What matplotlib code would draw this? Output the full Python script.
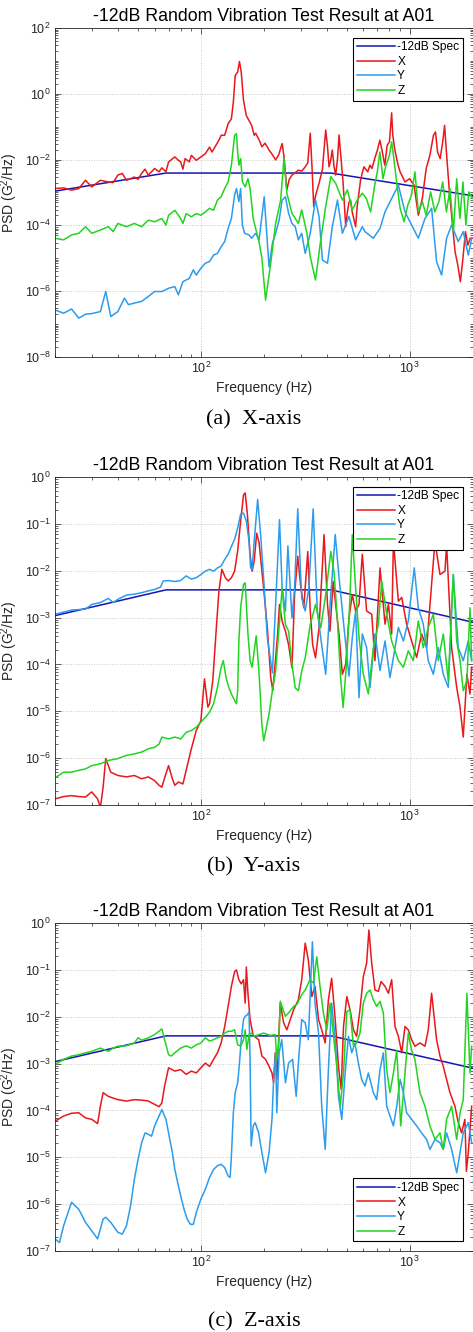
import numpy as np
import matplotlib
matplotlib.use('Agg')
import matplotlib.pyplot as plt
from matplotlib import ticker

plt.rcParams['font.family'] = ['Liberation Sans', 'DejaVu Sans']
plt.rcParams['mathtext.fontset'] = 'custom'
plt.rcParams['mathtext.rm'] = 'Liberation Sans'
plt.rcParams['mathtext.it'] = 'Liberation Sans:italic'
plt.rcParams['mathtext.bf'] = 'Liberation Sans:bold'

title = '-12dB Random Vibration Test Result at A01'
legend_labels = ['-12dB Spec', 'X', 'Y', 'Z']
captions = ['(a)  X-axis', '(b)  Y-axis', '(c)  Z-axis']

# -12dB spec breakpoints (Hz, G^2/Hz)
spec_f = [20, 68, 420, 2000]
spec_psd = [1.1e-3, 3.9e-3, 3.9e-3, 8.0e-4]

# measured PSDs: (frequency Hz, log10 of PSD in G^2/Hz), read off the plots
# ---- (a) X-axis test
a_x = [(20, -2.88), (22, -2.86), (24, -2.93), (26, -2.88), (28, -2.63), (30, -2.83), (33, -2.63), (36, -2.68),
       (38, -2.70), (40, -2.47), (42, -2.42), (44, -2.63), (48, -2.53), (50, -2.60), (52, -2.42), (54, -2.29),
       (56, -2.47), (60, -2.27), (63, -2.37), (65, -2.25), (68, -2.37), (70, -2.07), (75, -1.92), (78, -2.02),
       (80, -2.07), (82, -2.29), (84, -1.97), (88, -2.07), (90, -1.87), (95, -2.02), (100, -1.92), (105, -1.82),
       (110, -1.62), (113, -1.77), (118, -1.57), (122, -1.41), (125, -1.26), (130, -1.26), (135, -0.91),
       (140, -0.76), (143, -0.25), (146, 0.56), (150, 0.66), (153, 0.98), (156, 0.66), (160, -0.20), (165, -0.66),
       (170, -0.81), (175, -0.96), (180, -1.26), (183, -1.20), (190, -1.40), (196, -1.61), (203, -1.50),
       (212, -1.71), (220, -1.85), (228, -2.01), (236, -1.85), (245, -1.51), (250, -1.90), (258, -2.92),
       (265, -2.60), (273, -2.47), (283, -2.40), (293, -2.32), (304, -2.35), (316, -2.22), (325, -2.10),
       (334, -1.20), (341, -2.30), (347, -3.43), (354, -3.10), (368, -2.72), (382, -2.30), (396, -1.10),
       (404, -1.60), (411, -2.22), (419, -2.00), (426, -1.71), (434, -2.20), (442, -2.47), (451, -2.00),
       (459, -1.25), (468, -1.90), (480, -2.72), (494, -4.04), (503, -3.60), (512, -3.30), (521, -3.23),
       (531, -3.60), (551, -4.04), (561, -3.40), (582, -2.62), (593, -2.40), (604, -2.22), (630, -2.37),
       (645, -2.17), (660, -2.27), (680, -1.97), (700, -1.72), (720, -1.41), (740, -1.77), (760, -2.17),
       (780, -1.57), (800, -1.46), (820, -0.58), (830, -1.26), (850, -1.72), (880, -2.17), (900, -2.37),
       (950, -2.68), (1000, -2.58), (1050, -2.78), (1100, -3.69), (1150, -3.18), (1200, -2.27), (1250, -1.87),
       (1300, -1.26), (1330, -1.16), (1360, -1.77), (1400, -1.97), (1440, -1.46), (1470, -0.96), (1500, -1.77),
       (1550, -2.98), (1600, -3.89), (1650, -4.80), (1700, -5.20), (1750, -5.71), (1800, -5.00), (1850, -4.19),
       (1900, -4.60), (1950, -4.39), (2000, -4.39)]
a_y = [(20, -6.57), (22, -6.67), (24, -6.54), (26, -6.82), (28, -6.70), (30, -6.68), (33, -6.62), (35, -6.01),
       (37, -6.77), (40, -6.62), (43, -6.21), (45, -6.41), (48, -6.36), (52, -6.31), (56, -6.16), (60, -6.01),
       (65, -6.01), (70, -5.91), (75, -5.86), (78, -6.11), (82, -5.71), (88, -5.61), (92, -5.35), (95, -5.51),
       (100, -5.30), (105, -5.15), (110, -5.10), (115, -4.90), (120, -4.85), (125, -4.65), (130, -4.49),
       (135, -4.09), (140, -3.79), (145, -3.08), (148, -2.88), (152, -3.28), (155, -2.88), (158, -3.99),
       (162, -4.24), (170, -4.29), (175, -4.39), (183, -4.24), (190, -4.44), (201, -3.13), (212, -5.26),
       (220, -4.54), (228, -4.24), (237, -3.84), (245, -3.23), (254, -3.13), (263, -3.63), (273, -3.94),
       (283, -4.04), (293, -4.44), (304, -4.24), (316, -4.85), (334, -4.24), (354, -3.23), (368, -3.73),
       (382, -5.05), (404, -5.15), (426, -4.04), (451, -3.23), (476, -4.24), (512, -3.73), (551, -4.44),
       (593, -4.04), (611, -4.19), (670, -4.39), (721, -4.09), (762, -3.59), (820, -3.18), (883, -2.78),
       (950, -3.59), (1022, -3.99), (1100, -4.39), (1184, -3.79), (1274, -3.48), (1346, -5.10), (1422, -5.51),
       (1503, -4.39), (1588, -3.99), (1709, -4.49), (1806, -4.19), (1909, -4.90), (1982, -4.39)]
a_z = [(20, -4.39), (22, -4.44), (24, -4.29), (26, -4.24), (28, -4.04), (30, -4.24), (33, -4.14), (36, -4.04),
       (38, -4.19), (40, -3.94), (44, -4.04), (48, -3.94), (52, -4.04), (56, -3.84), (60, -3.89), (65, -3.79),
       (68, -3.99), (70, -3.69), (75, -3.54), (80, -3.79), (82, -3.94), (85, -3.64), (90, -3.74), (95, -3.64),
       (100, -3.69), (105, -3.59), (110, -3.48), (115, -3.54), (120, -3.23), (125, -3.13), (130, -2.88),
       (135, -2.68), (140, -2.17), (145, -1.26), (148, -1.21), (150, -1.77), (152, -2.17), (155, -1.97),
       (158, -2.68), (163, -2.83), (168, -2.58), (172, -2.88), (178, -3.79), (183, -4.10), (190, -4.50),
       (196, -5.00), (204, -6.27), (216, -5.15), (228, -3.94), (241, -3.23), (250, -1.96), (258, -3.02),
       (273, -3.63), (293, -3.94), (304, -3.53), (322, -4.24), (334, -4.95), (354, -5.66), (375, -4.44),
       (396, -3.43), (419, -2.52), (442, -2.72), (476, -3.23), (503, -2.92), (531, -3.53), (561, -3.23),
       (593, -3.02), (620, -3.18), (650, -3.59), (680, -2.78), (700, -2.37), (720, -1.77), (745, -2.58),
       (770, -2.17), (800, -1.87), (820, -1.46), (840, -1.97), (870, -2.78), (900, -3.48), (940, -3.89),
       (980, -3.38), (1020, -3.08), (1060, -2.37), (1100, -3.59), (1150, -3.28), (1200, -3.69), (1260, -2.98),
       (1320, -3.59), (1380, -3.28), (1440, -2.68), (1500, -3.59), (1560, -2.88), (1620, -4.19), (1680, -2.58),
       (1740, -3.79), (1800, -2.68), (1860, -3.99), (1920, -2.98), (2000, -3.18)]

# ---- (b) Y-axis test
b_x = [(20, -6.87), (22, -6.82), (24, -6.80), (26, -6.82), (28, -6.83), (30, -6.72), (32, -6.87), (33, -7.05),
       (34, -6.62), (35, -6.01), (37, -6.30), (40, -6.37), (44, -6.40), (48, -6.37), (52, -6.44), (56, -6.40),
       (60, -6.48), (63, -6.58), (65, -6.62), (68, -6.33), (70, -6.16), (73, -6.44), (75, -6.58), (78, -6.51),
       (82, -6.55), (85, -6.26), (88, -5.98), (90, -5.80), (95, -5.41), (100, -5.20), (104, -4.31), (108, -4.91),
       (110, -4.84), (114, -4.35), (118, -3.35), (122, -2.43), (126, -1.97), (131, -2.15), (135, -2.22),
       (140, -2.15), (145, -2.01), (150, -1.58), (155, -0.94), (160, -0.38), (163, -0.34), (167, -0.80),
       (172, -1.65), (176, -2.01), (180, -1.79), (185, -1.20), (190, -1.40), (200, -2.40), (208, -3.22),
       (216, -4.28), (221, -4.56), (228, -3.86), (233, -3.36), (238, -2.72), (245, -3.08), (254, -3.29),
       (263, -3.58), (273, -4.07), (281, -2.51), (291, -1.69), (300, -2.30), (311, -2.79), (325, -1.59),
       (334, -2.86), (343, -3.58), (354, -3.86), (368, -3.22), (389, -1.23), (404, -2.72), (415, -3.29),
       (430, -2.23), (442, -2.72), (459, -3.36), (476, -4.21), (494, -4.00), (512, -3.01), (531, -2.51),
       (551, -2.86), (572, -2.72), (593, -1.65), (622, -2.86), (658, -2.93), (682, -3.92), (721, -1.94),
       (762, -3.14), (791, -2.72), (820, -3.35), (836, -1.37), (883, -2.65), (916, -2.57), (967, -3.14),
       (1022, -3.50), (1080, -3.85), (1141, -3.35), (1206, -3.64), (1322, -1.37), (1397, -2.08), (1476, -2.01),
       (1503, -1.44), (1588, -3.64), (1680, -4.49), (1743, -4.91), (1806, -5.55), (1880, -4.21), (1945, -4.63),
       (1982, -4.06)]
b_y = [(20, -2.93), (24, -2.84), (28, -2.82), (30, -2.72), (33, -2.68), (36, -2.59), (38, -2.68), (40, -2.61),
       (44, -2.52), (48, -2.50), (52, -2.47), (56, -2.43), (60, -2.40), (64, -2.35), (66, -2.22), (70, -2.21),
       (75, -2.23), (80, -2.21), (85, -2.11), (90, -2.18), (95, -2.15), (100, -2.08), (105, -2.01), (110, -1.97),
       (115, -2.01), (120, -1.94), (125, -1.90), (130, -1.76), (135, -1.65), (140, -1.48), (145, -1.33),
       (150, -1.09), (155, -0.79), (160, -0.77), (165, -0.94), (170, -1.37), (173, -1.94), (176, -1.97),
       (180, -1.37), (187, -0.48), (193, -1.20), (200, -2.20), (208, -3.43), (220, -4.18), (228, -2.72),
       (238, -0.91), (245, -2.37), (254, -2.86), (261, -1.47), (273, -3.01), (281, -2.37), (291, -0.68),
       (304, -2.58), (316, -2.86), (329, -2.37), (345, -0.68), (361, -2.86), (375, -3.43), (396, -4.21),
       (419, -2.51), (440, -1.23), (459, -2.15), (485, -3.22), (512, -4.25), (531, -3.43), (551, -2.86),
       (572, -4.71), (593, -3.35), (622, -3.64), (646, -4.49), (682, -3.35), (721, -4.13), (762, -3.50),
       (805, -4.28), (836, -3.85), (883, -3.21), (933, -3.50), (985, -3.07), (1052, -1.94), (1100, -2.79),
       (1162, -3.14), (1228, -3.92), (1298, -4.21), (1371, -3.64), (1449, -4.21), (1531, -4.49), (1618, -2.08),
       (1709, -3.64), (1806, -3.92), (1909, -3.50), (1982, -3.92)]
b_z = [(20, -6.42), (22, -6.30), (24, -6.30), (26, -6.26), (28, -6.23), (30, -6.16), (33, -6.12), (36, -6.05),
       (40, -6.01), (44, -5.94), (48, -5.91), (52, -5.87), (56, -5.80), (60, -5.77), (63, -5.70), (65, -5.55),
       (70, -5.59), (75, -5.55), (80, -5.59), (85, -5.45), (90, -5.41), (95, -5.34), (100, -5.23), (105, -5.13),
       (110, -5.02), (115, -4.84), (120, -4.49), (125, -4.06), (128, -3.92), (132, -4.28), (136, -4.49),
       (140, -4.63), (145, -4.77), (148, -4.84), (150, -4.56), (152, -3.50), (155, -2.79), (160, -2.29),
       (163, -2.26), (168, -3.35), (172, -3.92), (176, -4.06), (180, -3.71), (184, -3.39), (190, -4.20),
       (196, -5.30), (200, -5.63), (212, -5.06), (220, -4.56), (228, -4.14), (236, -3.29), (245, -2.37),
       (254, -3.15), (263, -3.29), (273, -4.00), (283, -4.50), (293, -4.56), (304, -4.14), (316, -3.86),
       (334, -3.15), (354, -2.72), (375, -3.22), (396, -2.51), (419, -1.59), (434, -2.02), (451, -3.08),
       (467, -4.28), (480, -4.92), (498, -4.00), (516, -2.72), (531, -1.23), (551, -2.37), (572, -3.43),
       (600, -4.21), (634, -4.63), (670, -3.64), (708, -3.14), (735, -2.22), (776, -2.93), (820, -3.50),
       (883, -3.92), (933, -4.06), (985, -3.71), (1041, -3.92), (1100, -3.07), (1162, -3.64), (1228, -3.21),
       (1298, -2.93), (1371, -3.92), (1449, -3.35), (1531, -4.35), (1618, -2.08), (1680, -3.50), (1743, -3.92),
       (1806, -4.56), (1880, -4.35), (1945, -2.79), (1982, -3.92)]

# ---- (c) Z-axis test
c_x = [(20, -4.23), (22, -4.12), (24, -4.06), (26, -4.05), (28, -4.16), (30, -4.19), (32, -4.28), (33, -3.91),
       (34, -3.62), (36, -3.70), (40, -3.77), (44, -3.80), (48, -3.77), (52, -3.78), (56, -3.80), (60, -3.87),
       (63, -3.92), (65, -3.84), (67, -3.48), (70, -3.09), (75, -3.16), (80, -3.13), (85, -3.23), (90, -3.16),
       (95, -3.20), (100, -3.09), (105, -2.99), (110, -3.06), (115, -2.91), (120, -2.77), (125, -2.56),
       (130, -2.21), (135, -1.78), (140, -1.35), (145, -1.04), (148, -1.00), (152, -1.21), (156, -1.30),
       (160, -1.21), (163, -1.71), (165, -0.94), (168, -1.50), (172, -2.06), (178, -2.40), (189, -2.49),
       (196, -2.84), (204, -2.91), (212, -3.06), (219, -3.20), (223, -3.41), (227, -2.77), (231, -3.34),
       (240, -1.71), (249, -2.13), (258, -2.28), (268, -2.06), (278, -1.85), (293, -1.64), (304, -1.21),
       (316, -0.43), (327, -0.79), (340, -1.57), (352, -1.35), (366, -2.06), (379, -2.28), (394, -2.56),
       (408, -1.64), (423, -1.18), (440, -2.06), (456, -3.06), (470, -3.55), (482, -2.21), (500, -1.57),
       (518, -1.85), (538, -2.28), (557, -2.42), (578, -1.85), (600, -1.14), (622, -0.86), (638, -0.15),
       (658, -0.86), (682, -1.43), (708, -1.46), (729, -1.25), (762, -1.35), (791, -1.50), (820, -1.21),
       (851, -2.21), (883, -2.42), (916, -2.77), (950, -2.21), (985, -2.28), (1022, -2.49), (1060, -2.63),
       (1120, -2.56), (1184, -2.63), (1228, -2.28), (1274, -1.50), (1346, -2.49), (1397, -2.84), (1449, -3.06),
       (1503, -3.34), (1560, -3.62), (1648, -3.91), (1709, -4.26), (1773, -4.48), (1839, -4.19), (1870, -5.30),
       (1909, -4.90), (1982, -3.91)]
c_y = [(20, -6.74), (21, -6.82), (22, -6.46), (24, -5.96), (26, -6.11), (28, -6.39), (30, -6.57), (32, -6.74),
       (34, -6.32), (35, -6.28), (37, -6.39), (40, -6.60), (42, -6.64), (44, -6.46), (46, -6.04), (48, -5.47),
       (50, -5.04), (52, -4.69), (54, -4.48), (56, -4.51), (58, -4.55), (60, -4.33), (63, -4.12), (65, -3.98),
       (68, -4.19), (70, -4.48), (73, -4.90), (75, -5.26), (78, -5.61), (80, -5.82), (83, -6.11), (86, -6.32),
       (89, -6.43), (92, -6.43), (95, -6.18), (100, -5.89), (105, -5.68), (110, -5.43), (115, -5.26),
       (120, -5.18), (125, -5.15), (130, -5.22), (135, -5.40), (138, -5.43), (140, -4.97), (143, -4.05),
       (146, -3.62), (150, -3.41), (153, -2.99), (156, -2.49), (160, -2.06), (163, -1.99), (167, -1.96),
       (170, -1.89), (172, -2.91), (174, -4.76), (178, -4.33), (182, -4.26), (189, -4.48), (196, -4.90),
       (204, -5.33), (212, -4.90), (219, -4.19), (223, -3.34), (228, -2.77), (231, -4.05), (237, -2.77),
       (244, -2.49), (254, -3.41), (263, -2.99), (275, -2.91), (286, -3.70), (293, -2.99), (304, -2.06),
       (316, -2.13), (327, -2.49), (342, -0.40), (352, -1.71), (366, -2.35), (379, -3.91), (394, -4.83),
       (408, -3.13), (423, -1.71), (440, -2.49), (456, -3.70), (473, -4.19), (491, -3.20), (509, -2.42),
       (528, -2.77), (547, -2.56), (568, -2.99), (589, -3.34), (611, -3.48), (634, -3.20), (670, -3.62),
       (695, -3.77), (721, -3.13), (748, -2.77), (776, -3.91), (805, -4.12), (836, -4.33), (867, -3.91),
       (900, -3.34), (933, -3.62), (967, -4.05), (1022, -4.19), (1080, -4.33), (1141, -4.48), (1206, -4.62),
       (1251, -4.83), (1322, -4.62), (1397, -4.69), (1449, -4.83), (1503, -4.48), (1588, -4.83), (1680, -5.33),
       (1743, -4.90), (1806, -4.48), (1909, -4.26), (1982, -4.69)]
c_z = [(20, -3.02), (22, -2.91), (24, -2.84), (26, -2.81), (28, -2.77), (30, -2.74), (33, -2.67), (36, -2.74),
       (38, -2.67), (40, -2.63), (44, -2.62), (48, -2.56), (50, -2.45), (52, -2.50), (56, -2.45), (60, -2.38),
       (63, -2.31), (65, -2.26), (67, -2.49), (70, -2.81), (72, -2.84), (75, -2.77), (80, -2.67), (85, -2.62),
       (90, -2.67), (95, -2.60), (100, -2.56), (105, -2.45), (110, -2.52), (115, -2.49), (120, -2.45),
       (125, -2.42), (130, -2.35), (135, -2.31), (140, -2.31), (145, -2.28), (150, -2.60), (155, -2.63),
       (160, -2.49), (163, -2.28), (166, -2.70), (170, -2.38), (175, -2.35), (180, -2.42), (190, -2.38),
       (200, -2.35), (215, -2.40), (227, -2.38), (231, -2.91), (236, -2.60), (240, -1.67), (254, -1.99),
       (263, -1.92), (278, -1.78), (288, -1.74), (304, -1.53), (316, -1.43), (333, -1.21), (346, -1.28),
       (359, -0.72), (372, -1.35), (386, -1.92), (401, -2.28), (416, -1.71), (432, -2.42), (448, -3.06),
       (465, -3.91), (482, -3.20), (500, -1.89), (518, -1.85), (538, -2.63), (557, -2.56), (578, -2.35),
       (600, -1.71), (622, -1.50), (646, -1.43), (670, -1.64), (695, -1.78), (721, -1.67), (748, -1.92),
       (776, -3.13), (805, -3.62), (836, -3.20), (867, -2.72), (906, -4.33), (950, -3.20), (985, -2.35),
       (1022, -2.72), (1060, -2.91), (1120, -3.62), (1184, -3.91), (1251, -4.33), (1322, -4.62), (1397, -4.48),
       (1449, -4.83), (1503, -4.19), (1588, -3.91), (1680, -4.62), (1743, -4.05), (1806, -3.77), (1880, -1.50),
       (1945, -3.20), (1982, -2.63)]

spec_color = '#1414b4'
curve_colors = ['#e8181c', '#2c9cec', '#22d422']
text_color = '#262626'


def drawPanel(ax, curves, ylim, yticks, legend_loc):
    ax.plot(spec_f, spec_psd, color=spec_color, lw=1.1, label=legend_labels[0])
    for data, color, label in zip(curves, curve_colors, legend_labels[1:]):
        f, lg = zip(*data)
        ax.plot(f, 10.0 ** np.array(lg), color=color, lw=1.1, label=label)

    ax.set_xscale('log')
    ax.set_yscale('log')
    ax.set_xlim(20, 2000)
    ax.set_ylim(*ylim)
    ax.set_yticks(yticks)
    ax.yaxis.set_minor_locator(ticker.LogLocator(base=10, subs=np.arange(1, 10), numticks=100))
    ax.xaxis.set_minor_locator(ticker.LogLocator(base=10, subs=np.arange(1, 10), numticks=100))
    ax.xaxis.set_minor_formatter(ticker.NullFormatter())
    ax.yaxis.set_minor_formatter(ticker.NullFormatter())

    ax.grid(True, which='major', linestyle=':', color='#c8c8c8', lw=0.7)
    ax.tick_params(which='both', direction='in', top=True, right=True, colors=text_color,
                   labelsize=9, width=0.5)
    ax.tick_params(which='major', length=4, pad=3)
    ax.tick_params(which='minor', length=2)
    for s in ax.spines.values():
        s.set_color(text_color)
        s.set_linewidth(0.6)

    ax.set_title(title, fontsize=12.8, color='black', pad=5)
    ax.set_xlabel('Frequency (Hz)', fontsize=10, color=text_color, labelpad=3)
    ax.set_ylabel('PSD (G$^2$/Hz)', fontsize=10, color=text_color)
    # label sits left of the tick labels, fully inside the figure
    ax.yaxis.set_label_coords(-0.083, 0.5)

    leg = ax.legend(loc=legend_loc, fontsize=8.6, fancybox=False, framealpha=1, edgecolor='black',
                    handlelength=3.2, handletextpad=0.2, labelspacing=0.22, borderpad=0.3,
                    borderaxespad=0.8)
    leg.get_frame().set_linewidth(0.8)


fig = plt.figure(figsize=(4.73, 13.32), dpi=100)
W, H = 473.0, 1332.0

# axes boxes in pixels: (left, top, right, bottom)
boxes = [(55, 28, 472.5, 357), (55, 477, 472.5, 805), (55, 923, 472.5, 1251)]
caption_y = [420, 867, 1322]
panel_curves = [(a_x, a_y, a_z), (b_x, b_y, b_z), (c_x, c_y, c_z)]
panel_ylim = [(1e-8, 1e2), (1e-7, 1e0), (1e-7, 1e0)]
panel_yticks = [[1e-8, 1e-6, 1e-4, 1e-2, 1e0, 1e2],
                [1e-7, 1e-6, 1e-5, 1e-4, 1e-3, 1e-2, 1e-1, 1e0],
                [1e-7, 1e-6, 1e-5, 1e-4, 1e-3, 1e-2, 1e-1, 1e0]]
panel_legend = ['upper right', 'upper right', 'lower right']

for i in range(3):
    l, t, r, b = boxes[i]
    ax = fig.add_axes([l / W, 1 - b / H, (r - l) / W, (b - t) / H])
    drawPanel(ax, panel_curves[i], panel_ylim[i], panel_yticks[i], panel_legend[i])
    fig.text(254 / W, 1 - caption_y[i] / H, captions[i], ha='center', va='center',
             family='Liberation Serif', fontsize=16, color='black')

fig.savefig('out.png', dpi=100)
plt.close(fig)
